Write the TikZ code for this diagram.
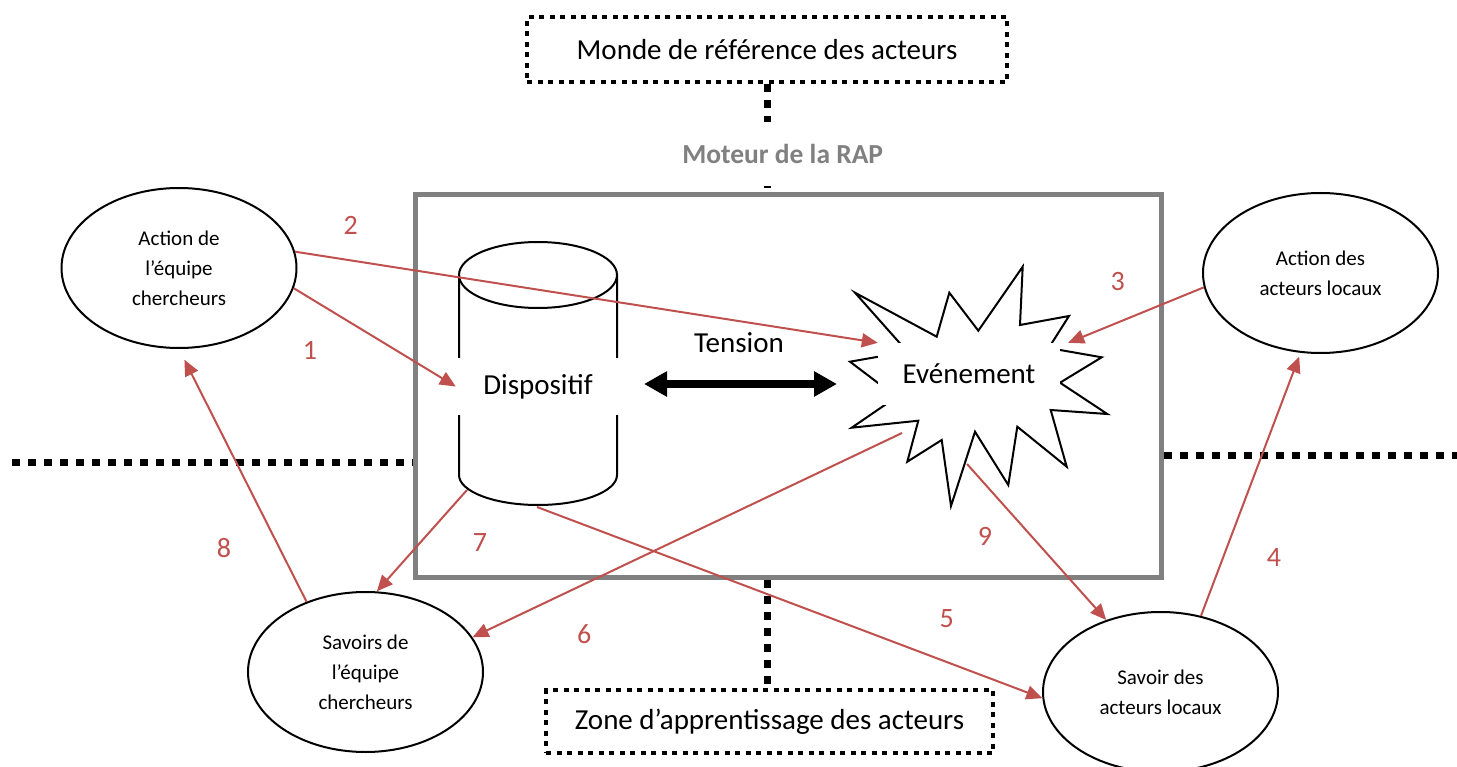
\documentclass[tikz,border=0pt]{standalone}
\usepackage{fontspec}
\setmainfont{Carlito}
\usepackage{tikz}
\usetikzlibrary{shapes.geometric,arrows.meta}
\definecolor{rouge}{HTML}{C0504D}

\begin{document}
\begin{tikzpicture}[x=1pt,y=-1pt,
  bulle/.style={draw, ellipse, line width=2, minimum width=235pt,
    minimum height=160pt, inner sep=0pt, align=center,
    font=\fontsize{21}{30}\selectfont},
  grand/.style={inner sep=0pt, font=\fontsize{29}{34}\selectfont},
  numero/.style={text=rouge, inner sep=0pt, font=\fontsize{28}{32}\selectfont},
  fleche/.style={draw=rouge, line width=2, -{Triangle[length=16pt,width=14pt]}},
  pointille/.style={line width=7, dash pattern=on 8pt off 8pt},
  boite/.style={draw, line width=4.5, dash pattern=on 5pt off 5.5pt,
    inner sep=0pt, font=\fontsize{29}{34}\selectfont}]
\useasboundingbox (0,0) rectangle (1457,767);

% Moteur de la RAP: cadre gris
\node[draw=gray, line width=5, minimum width=745.5pt, minimum height=382.5pt,
  inner sep=0pt] (moteur) at (788.25,386.25) {};

% Les deux zones en pointille
\node[boite, minimum width=480pt, minimum height=65pt] (monde) at (767,49.5)
  {Monde de référence des acteurs};
\node[boite, minimum width=447pt, minimum height=63pt] (zone) at (769.5,721.5)
  {Zone d’apprentissage des acteurs};

\coordinate (gauche) at (12,462);
\coordinate (droite) at (1457,455.5);
\draw[pointille]
  (gauche) -- (gauche -| moteur.west);
\draw[pointille]
  (droite -| moteur.east) -- (droite);
\draw[pointille]
  (monde.south) -- (monde.south |- moteur.north);
\draw[pointille]
  (monde.south |- moteur.south) -- (monde.south |- zone.north);

\node[fill=white, text=gray, inner sep=0pt, minimum height=64pt,
  font=\bfseries\fontsize{27.5}{32}\selectfont] (rap) at (782.7,154)
  {Moteur de la RAP};

% Dispositif (cylindre)
\draw[line width=2]
  (459,275) -- (459,475)
  arc[start angle=180, end angle=0, x radius=79, y radius=30]
  -- (617,275);
\draw[line width=2]
  (538,275) ellipse[x radius=79, y radius=33];
\node[grand, fill=white, minimum width=164pt, minimum height=57pt]
  (disp) at (538,386.5) {Dispositif};
\coordinate (cylbas) at (537,507);
\coordinate (cylgauche) at (467,490);

% Evenement (explosion)
\draw[line width=2, line join=miter]
  (855,292.7) -- (936.7,336.7) -- (949.3,292.7) -- (978.3,330.7)
  -- (1022.7,266.7) -- (1020,325) -- (1069,316) -- (1048.7,348)
  -- (1101.7,357.3) -- (1060,382.7) -- (1107.3,414) -- (1050.7,410)
  -- (1066.7,466.7) -- (1017.3,426.7) -- (1008.3,485) -- (975,431.7)
  -- (951,506) -- (941.7,440) -- (907.3,461.7) -- (918.3,420.7)
  -- (851.7,427.7) -- (896.5,397) -- (850,361.7) -- (907.3,351.6)
  -- cycle;
\node[grand, fill=white, minimum width=182pt, minimum height=62pt]
  (ev) at (969,374) {Evénement};
\coordinate (ev6) at (902,433);
\coordinate (ev9) at (967,464);

% Tension
\node[grand] (tension) at (739,343) {Tension};
\coordinate (tg) at (644,384);
\coordinate (td) at (837,384);
\draw[line width=8,
  {Triangle[length=23pt,width=24pt]}-{Triangle[length=23pt,width=24pt]}]
  (tg) -- (td);

% Les acteurs
\node[bulle] (ea) at (179,268) {Action de\\l’équipe\\chercheurs};
\node[bulle] (eb) at (1320.5,273) {Action des\\acteurs locaux};
\node[bulle] (ec) at (365.5,672) {Savoirs de\\l’équipe\\chercheurs};
\node[bulle] (ed) at (1160.5,692) {Savoir des\\acteurs locaux};

% Fleches numerotees
\draw[fleche] (ea.-10) -- (disp.west);
\draw[fleche] (ea.8) -- (ev.north west);
\draw[fleche] (eb.187) -- ([xshift=8pt]ev.north east);
\draw[fleche, shorten >=4pt] (ed.62) -- (eb.-104);
\draw[fleche] (cylbas) -- (ed.183);
\draw[fleche] (ev6) -- (ec.18);
\draw[fleche] (cylgauche) -- (ec.82);
\draw[fleche, shorten >=12pt] (ec.130) -- (ea.south);
\draw[fleche] (ev9) -- (ed.127);

\node[numero] (n1) at (310,350) {1};
\node[numero] (n2) at (350.7,225) {2};
\node[numero] (n3) at (1117.7,281.7) {3};
\node[numero] (n4) at (1274,558) {4};
\node[numero] (n5) at (946.7,618.3) {5};
\node[numero] (n6) at (584.3,634) {6};
\node[numero] (n7) at (480,542.7) {7};
\node[numero] (n8) at (224,548.3) {8};
\node[numero] (n9) at (985,536.7) {9};
\end{tikzpicture}
\end{document}
